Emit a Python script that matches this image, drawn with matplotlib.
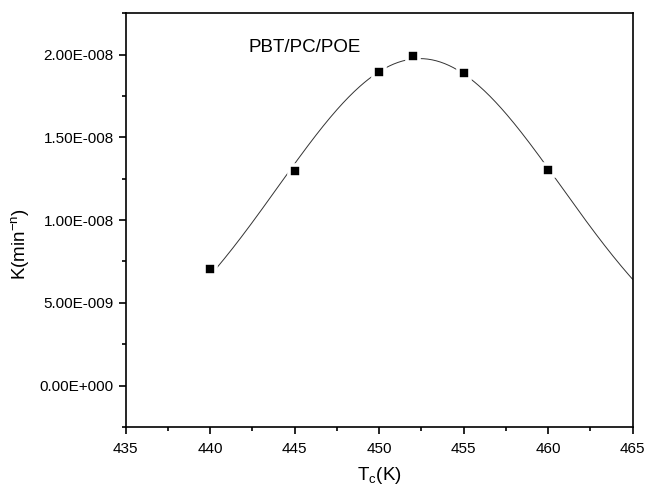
import matplotlib
matplotlib.use("Agg")
import matplotlib.pyplot as plt
import numpy as np
from matplotlib.ticker import FuncFormatter, MultipleLocator

plt.rcParams['font.family'] = ['Liberation Sans', 'DejaVu Sans']

# crystallization temperature (K) and rate constant K (min^-n)
tc = [440, 445, 450, 452, 455, 460]
k_rate = [7.05e-9, 1.297e-8, 1.893e-8, 1.994e-8, 1.89e-8, 1.30e-8]
sample_name = "PBT/PC/POE"

# gaussian fit A*exp(-(x-xc)^2/(2 s^2)), simple grid search over xc, s
x = np.array(tc, dtype=float)
y = np.array(k_rate)
best = None
for xc in np.linspace(448, 456, 161):
    for s in np.linspace(3, 20, 171):
        g = np.exp(-(x - xc) ** 2 / (2 * s ** 2))
        a = g @ y / (g @ g)
        err = np.sum((a * g - y) ** 2)
        if best is None or err < best[0]:
            best = (err, xc, s, a)
_, xc, s, a = best
t_fit = np.linspace(440, 465, 300)
k_fit = a * np.exp(-(t_fit - xc) ** 2 / (2 * s ** 2))


def sci_fmt(v, pos):
    if abs(v) < 1e-15:
        return "0.00E+000"
    exp = int(np.floor(np.log10(abs(v))))
    mant = v / 10 ** exp
    sign = "-" if exp < 0 else "+"
    return "%.2fE%s%03d" % (mant, sign, abs(exp))


fig = plt.figure(figsize=(6.47, 4.88), dpi=100)
ax = fig.add_axes([0.194, 0.125, 0.784, 0.848])

ax.plot(t_fit, k_fit, color='#333333', lw=0.7)
# white edge leaves a small gap between line and marker
ax.plot(tc, k_rate, 's', color='black', ms=8.3, mec='white', mew=2.6)

ax.set_xlim(435, 465)
ax.set_ylim(-2.5e-9, 2.25e-8)
ax.xaxis.set_major_locator(MultipleLocator(5))
ax.xaxis.set_minor_locator(MultipleLocator(2.5))
ax.yaxis.set_major_locator(MultipleLocator(5e-9))
ax.yaxis.set_minor_locator(MultipleLocator(2.5e-9))
ax.yaxis.set_major_formatter(FuncFormatter(sci_fmt))
ax.tick_params(which='major', direction='out', length=5, width=1.2, labelsize=11)
ax.tick_params(which='minor', direction='out', length=3, width=1.2)
ax.tick_params(axis='x', which='major', pad=6)
for sp in ax.spines.values():
    sp.set_linewidth(1.2)

ax.text(445.6, 2.04e-8, sample_name, fontsize=13.5, va='center', ha='center')

ax.set_xlabel(r"T$_\mathregular{c}$(K)", fontsize=13.5, labelpad=6)
ax.set_ylabel(r"K(min$^\mathregular{-n}$)", fontsize=13.5)
ax.yaxis.set_label_coords(-0.185, 0.443)

fig.savefig("out.png", dpi=100)
